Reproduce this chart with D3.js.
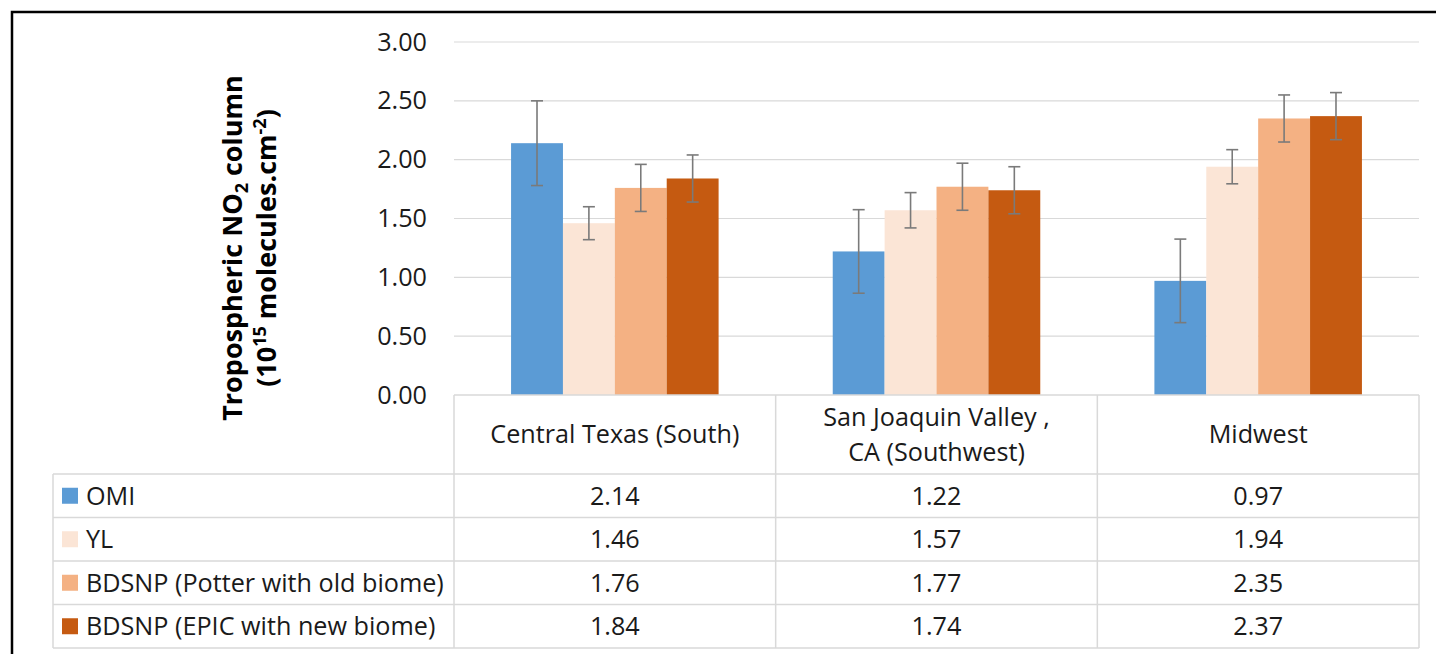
<!DOCTYPE html>
<html>
<head>
<meta charset="utf-8">
<script src="https://cdn.jsdelivr.net/npm/d3@7"></script>
<style>
  html, body { margin: 0; padding: 0; background: #fff; }
  svg { display: block; font-family: "Open Sans", sans-serif; }
</style>
</head>
<body>
<svg id="chart" width="1436" height="654"></svg>
<script>
// Regions shown on the category axis (each label may wrap to several lines)
const regions = ["Central Texas (South)", "San Joaquin Valley , CA (Southwest)", "Midwest"];
const regionLines = [["Central Texas (South)"], ["San Joaquin Valley ,", "CA (Southwest)"], ["Midwest"]];

// Series names and colours
const seriesNames = ["OMI", "YL", "BDSNP (Potter with old biome)", "BDSNP (EPIC with new biome)"];
const seriesColors = ["#5B9BD5", "#FBE5D6", "#F4B183", "#C55A11"];

// Mean tropospheric NO2 column per region, one array per series
const omi   = [2.14, 1.22, 0.97];
const yl    = [1.46, 1.57, 1.94];
const potter = [1.76, 1.77, 2.35];
const epic  = [1.84, 1.74, 2.37];

// Error bar half-widths
const omiErr    = [0.36, 0.355, 0.355];
const ylErr     = [0.14, 0.15, 0.145];
const potterErr = [0.20, 0.20, 0.20];
const epicErr   = [0.20, 0.20, 0.20];

// Axis ticks
const yTicks = [0, 0.5, 1.0, 1.5, 2.0, 2.5, 3.0];

const seriesValues = [omi, yl, potter, epic];
const seriesErrors = [omiErr, ylErr, potterErr, epicErr];

const svg = d3.select("#chart");
const FONT = 25.2;
const TEXT = "#1a1a1a";
const GRID = "#d9d9d9";

// Outer frame
svg.append("rect")
  .attr("x", 12).attr("y", 12)
  .attr("width", 1600).attr("height", 1000)
  .attr("fill", "none").attr("stroke", "#000").attr("stroke-width", 2.5);

// Plot geometry
const plotLeft = 454, plotRight = 1419, plotTop = 42, plotBottom = 395;
const tableLeft = 53;
const headerBottom = 474;
const rowH = 43.5;

const x = d3.scaleBand().domain(regions).range([plotLeft, plotRight]).padding(0);
const xs = d3.scaleBand().domain(seriesNames).range([0, x.bandwidth()]).paddingInner(0).paddingOuter(1.1);
const y = d3.scaleLinear().domain([0, 3]).range([plotBottom, plotTop]);

// Gridlines
svg.append("g")
  .selectAll("line")
  .data(yTicks.filter(t => t > 0))
  .join("line")
  .attr("x1", plotLeft).attr("x2", plotRight)
  .attr("y1", d => y(d)).attr("y2", d => y(d))
  .attr("stroke", GRID).attr("stroke-width", 1.2);

// Y axis tick labels
const yAxis = d3.axisLeft(y).tickValues(yTicks).tickFormat(d3.format(".2f")).tickSize(0).tickPadding(27);
const yg = svg.append("g").attr("transform", `translate(${plotLeft},0)`).call(yAxis);
yg.select(".domain").remove();
yg.selectAll("text")
  .attr("font-size", FONT).attr("fill", TEXT)
  .attr("font-family", "'Open Sans', sans-serif");

// Bars
const groups = svg.append("g")
  .selectAll("g")
  .data(seriesNames)
  .join("g")
  .attr("fill", (d, i) => seriesColors[i]);

groups.selectAll("rect")
  .data((s, si) => regions.map((r, ri) => ({ s, r, v: seriesValues[si][ri], e: seriesErrors[si][ri] })))
  .join("rect")
  .attr("x", d => x(d.r) + xs(d.s))
  .attr("width", xs.bandwidth())
  .attr("y", d => y(d.v))
  .attr("height", d => y(0) - y(d.v));

// Error bars
const errData = [];
seriesNames.forEach((s, si) => regions.forEach((r, ri) => {
  errData.push({ s, r, v: seriesValues[si][ri], e: seriesErrors[si][ri] });
}));
const eb = svg.append("g").attr("stroke", "#7a7a7a").attr("stroke-width", 1.6).attr("fill", "none");
const ebg = eb.selectAll("g").data(errData).join("g")
  .attr("transform", d => `translate(${x(d.r) + xs(d.s) + xs.bandwidth() / 2},0)`);
ebg.append("line").attr("x1", 0).attr("x2", 0)
  .attr("y1", d => y(d.v + d.e)).attr("y2", d => y(d.v - d.e));
ebg.append("line").attr("x1", -6).attr("x2", 6)
  .attr("y1", d => y(d.v + d.e)).attr("y2", d => y(d.v + d.e));
ebg.append("line").attr("x1", -6).attr("x2", 6)
  .attr("y1", d => y(d.v - d.e)).attr("y2", d => y(d.v - d.e));

// Data table below the plot
const table = svg.append("g");
const tableBottom = headerBottom + rowH * seriesNames.length;

// Top border (category axis line)
table.append("line")
  .attr("x1", plotLeft).attr("x2", plotRight)
  .attr("y1", plotBottom).attr("y2", plotBottom)
  .attr("stroke", GRID).attr("stroke-width", 1.5);

// Row lines
d3.range(seriesNames.length + 1).forEach(i => {
  table.append("line")
    .attr("x1", tableLeft).attr("x2", plotRight)
    .attr("y1", headerBottom + i * rowH).attr("y2", headerBottom + i * rowH)
    .attr("stroke", GRID).attr("stroke-width", 1.5);
});

// Column lines
[plotLeft, ...regions.map(r => x(r) + x.bandwidth())].forEach(cx => {
  table.append("line")
    .attr("x1", cx).attr("x2", cx)
    .attr("y1", plotBottom).attr("y2", tableBottom)
    .attr("stroke", GRID).attr("stroke-width", 1.5);
});
table.append("line")
  .attr("x1", tableLeft).attr("x2", tableLeft)
  .attr("y1", headerBottom).attr("y2", tableBottom)
  .attr("stroke", GRID).attr("stroke-width", 1.5);

// Header: category names
const headerMid = (plotBottom + headerBottom) / 2;
regions.forEach((r, ri) => {
  const lines = regionLines[ri];
  const lh = 35;
  const t = table.append("text")
    .attr("text-anchor", "middle")
    .attr("font-size", FONT).attr("fill", TEXT);
  lines.forEach((ln, li) => {
    t.append("tspan")
      .attr("x", x(r) + x.bandwidth() / 2)
      .attr("y", headerMid + (li - (lines.length - 1) / 2) * lh)
      .attr("dy", "0.35em")
      .text(ln);
  });
});

// Legend keys and values
seriesNames.forEach((s, si) => {
  const cy = headerBottom + rowH * si + rowH / 2;
  table.append("rect")
    .attr("x", 62).attr("y", cy - 8)
    .attr("width", 16).attr("height", 16)
    .attr("fill", seriesColors[si]);
  table.append("text")
    .attr("x", 86).attr("y", cy).attr("dy", "0.35em")
    .attr("font-size", FONT).attr("fill", TEXT)
    .text(s);
  regions.forEach((r, ri) => {
    table.append("text")
      .attr("x", x(r) + x.bandwidth() / 2).attr("y", cy).attr("dy", "0.35em")
      .attr("text-anchor", "middle")
      .attr("font-size", FONT).attr("fill", TEXT)
      .text(d3.format(".2f")(seriesValues[si][ri]));
  });
});

// Y axis title (rotated, two lines)
const titleCy = 248;
const t1 = svg.append("text")
  .attr("transform", `translate(242,${titleCy}) rotate(-90)`)
  .attr("text-anchor", "middle")
  .attr("font-size", 27).attr("font-weight", "bold").attr("fill", "#000");
t1.append("tspan").text("Tropospheric NO");
t1.append("tspan").attr("font-size", 18).attr("dy", 6).text("2");
t1.append("tspan").attr("dy", -6).text(" column");

const t2 = svg.append("text")
  .attr("transform", `translate(276,${titleCy}) rotate(-90)`)
  .attr("text-anchor", "middle")
  .attr("font-size", 27).attr("font-weight", "bold").attr("fill", "#000");
t2.append("tspan").text("(10");
t2.append("tspan").attr("font-size", 18).attr("dy", -10).text("15");
t2.append("tspan").attr("dy", 10).text(" molecules.cm");
t2.append("tspan").attr("font-size", 18).attr("dy", -10).text("-2");
t2.append("tspan").attr("dy", 10).text(")");
</script>
</body>
</html>
